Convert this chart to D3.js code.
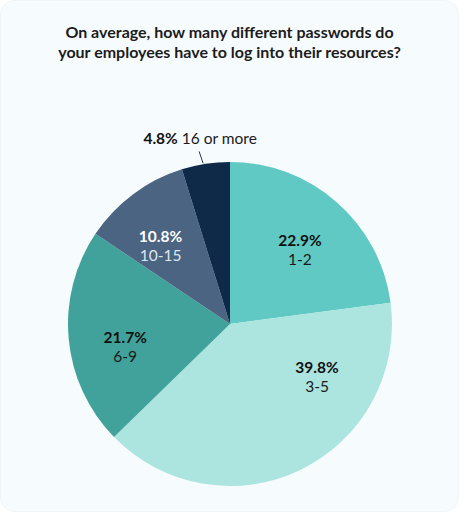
<!DOCTYPE html>
<html>
<head>
<meta charset="utf-8">
<script src="https://cdn.jsdelivr.net/npm/d3@7"></script>
<style>
  html, body { margin: 0; padding: 0; background: #ffffff; }
  svg { display: block; }
</style>
</head>
<body>
<script>
const titleLines = ["On average, how many different passwords do", "your employees have to log into their resources?"];
const categories = ["1-2", "3-5", "6-9", "10-15", "16 or more"];
const values = [22.9, 39.8, 21.7, 10.8, 4.8];
const colors = ["#61c9c3", "#ace4e0", "#41a29b", "#4a6482", "#0f2a48"];

const W = 459, H = 512;
const cx = 230, cy = 324, R = 162;

const svg = d3.select("body").append("svg").attr("width", W).attr("height", H);

svg.append("rect").attr("x", 0.5).attr("y", 0.5).attr("width", W - 1).attr("height", H - 1)
  .attr("rx", 14).attr("fill", "#f6fbfe").attr("stroke", "#eef4f7");

const title = svg.append("text").attr("text-anchor", "middle")
  .attr("font-family", "Lato, sans-serif").attr("font-weight", 700)
  .attr("font-size", 16).attr("fill", "#1c1c1c");
titleLines.forEach((t, i) => {
  title.append("tspan").attr("x", W / 2).attr("y", 38 + i * 20).text(t);
});

const data = categories.map((c, i) => ({ cat: c, value: values[i], color: colors[i] }));
const pie = d3.pie().sort(null).value(d => d.value);
const arcs = pie(data);
const arc = d3.arc().innerRadius(0).outerRadius(R);

const g = svg.append("g").attr("transform", `translate(${cx},${cy})`);
g.selectAll("path").data(arcs).join("path")
  .attr("d", arc).attr("fill", d => d.data.color);

// label placement: fraction along the slice's sweep and radius factor
const labelFrac = [0.5, 0.25, 0.45, 0.43, 0.5];
const labelRad = [0.655, 0.61, 0.655, 0.675, 0];
const textColors = ["#111", "#111", "#111", "#ffffff", "#111"];
const subColors = ["#1a1a1a", "#1a1a1a", "#1a1a1a", "#dfe6ee", "#1a1a1a"];

arcs.forEach((a, i) => {
  if (i === 4) return;
  const ang = a.startAngle + labelFrac[i] * (a.endAngle - a.startAngle);
  const r = R * labelRad[i];
  const x = Math.sin(ang) * r, y = -Math.cos(ang) * r;
  const t = g.append("text").attr("text-anchor", "middle")
    .attr("font-family", "Lato, sans-serif").attr("font-size", 15.5);
  t.append("tspan").attr("x", x).attr("y", y + 2).attr("font-weight", 700)
    .attr("fill", textColors[i]).text(d3.format(".1f")(a.data.value) + "%");
  t.append("tspan").attr("x", x).attr("y", y + 21).attr("font-weight", 400)
    .attr("fill", subColors[i]).text(a.data.cat);
});

// outside label for the small slice with leader line
const small = arcs[4];
const sAng = small.startAngle + 0.45 * (small.endAngle - small.startAngle);
const p0 = [Math.sin(sAng) * (R + 1), -Math.cos(sAng) * (R + 1)];
const p1 = [Math.sin(sAng) * (R + 13), -Math.cos(sAng) * (R + 13)];
g.append("line").attr("x1", p0[0]).attr("y1", p0[1]).attr("x2", p1[0] - 2).attr("y2", p1[1])
  .attr("stroke", "#2a3a4a").attr("stroke-width", 1);
const ot = g.append("text").attr("text-anchor", "middle")
  .attr("x", p1[0] - 1).attr("y", p1[1] - 7)
  .attr("font-family", "Lato, sans-serif").attr("font-size", 15.5);
ot.append("tspan").attr("font-weight", 700).attr("fill", "#111")
  .text(d3.format(".1f")(small.data.value) + "%");
ot.append("tspan").attr("font-weight", 400).attr("fill", "#1a1a1a").text(" " + small.data.cat);
</script>
</body>
</html>
